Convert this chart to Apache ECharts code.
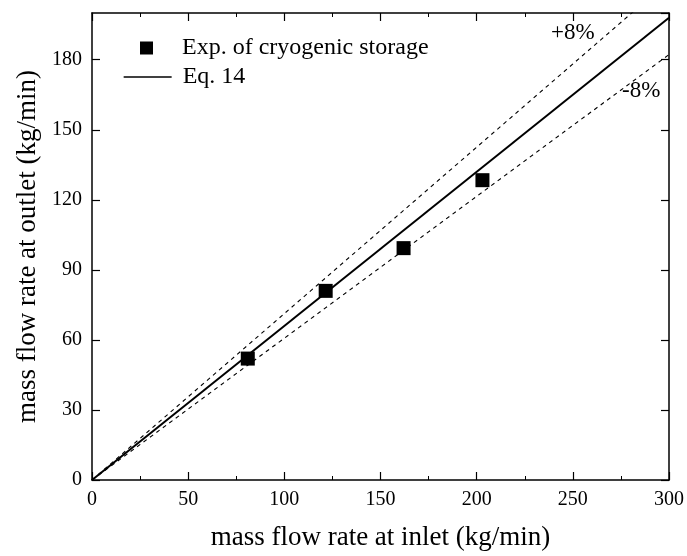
<!DOCTYPE html>
<html><head><meta charset="utf-8">
<script src="https://cdn.jsdelivr.net/npm/echarts@6/dist/echarts.min.js"></script>
<style>html,body{margin:0;padding:0;background:#fff}#c{width:687px;height:556px}</style>
</head><body><div id="c"></div>
<script>
// Experimental points
const expX = [81, 121.5, 162, 203];
const expY = [52, 81, 99.3, 128.4];
// Eq. 14 line endpoints
const eqX = [0, 300];
const eqY = [0, 198];
// +8% / -8% band endpoints
const plusX = [0, 300];
const plusY = [0, 213.8];
const minusX = [0, 300];
const minusY = [0, 182.2];
const xTicks = [0, 50, 100, 150, 200, 250, 300];
const yTicks = [0, 30, 60, 90, 120, 150, 180];

const zip = (a, b) => a.map((v, i) => [v, b[i]]);
const FONT = '"Liberation Serif", "Times New Roman", serif';

const axisCommon = {
  axisLine: { show: true, onZero: false, lineStyle: { color: '#000', width: 1.5 } },
  axisTick: { show: true, inside: true, length: 8, lineStyle: { color: '#000', width: 1.2 } },
  minorTick: { show: true, splitNumber: 2, length: 4, lineStyle: { color: '#000', width: 1 } },
  splitLine: { show: false },
};

const chart = echarts.init(document.getElementById('c'), null, { renderer: 'canvas' });
chart.setOption({
  animation: false,
  textStyle: { fontFamily: FONT },
  grid: { left: 92, right: 18, top: 13, bottom: 74, containLabel: false },
  legend: [
    {
      orient: 'vertical', left: 135, top: 31, itemWidth: 13, itemHeight: 13,
      textStyle: { fontFamily: FONT, fontSize: 24, color: '#000', padding: [0, 0, 0, 24] },
      data: [{ name: 'Exp. of cryogenic storage', icon: 'rect' }]
    },
    {
      orient: 'vertical', left: 118, top: 60, itemWidth: 48, itemHeight: 13,
      textStyle: { fontFamily: FONT, fontSize: 24, color: '#000', padding: [0, 0, 0, 6] },
      lineStyle: { width: 1.3, color: '#000' },
      data: [{ name: 'Eq. 14', itemStyle: { color: 'rgba(0,0,0,0)', borderWidth: 0 } }]
    }
  ],
  xAxis: [
    Object.assign({}, axisCommon, {
      type: 'value', min: xTicks[0], max: xTicks[xTicks.length - 1], interval: 50,
      name: 'mass flow rate at inlet (kg/min)', nameLocation: 'middle', nameGap: 44,
      nameTextStyle: { fontFamily: FONT, fontSize: 27, color: '#000' },
      axisLabel: { color: '#000', fontFamily: FONT, fontSize: 20, margin: 10 }
    }),
    Object.assign({}, axisCommon, {
      type: 'value', position: 'top', min: xTicks[0], max: xTicks[xTicks.length - 1], interval: 50,
      axisLabel: { show: false }
    })
  ],
  yAxis: [
    Object.assign({}, axisCommon, {
      type: 'value', min: 0, max: 200, interval: 30,
      minorTick: { show: false },
      name: 'mass flow rate at outlet (kg/min)', nameLocation: 'middle', nameGap: 48,
      nameTextStyle: { fontFamily: FONT, fontSize: 27, color: '#000' },
      axisLabel: { color: '#000', fontFamily: FONT, fontSize: 20, margin: 10, showMaxLabel: false,
        formatter: v => yTicks.includes(v) ? String(v) : '' }
    }),
    Object.assign({}, axisCommon, {
      type: 'value', position: 'right', min: 0, max: 200, interval: 30,
      minorTick: { show: false },
      axisLabel: { show: false }
    })
  ],
  series: [
    {
      name: '+8%', type: 'line', data: zip(plusX, plusY), symbol: 'none', clip: true,
      lineStyle: { color: '#000', width: 1.1, type: [4, 4] }, silent: true
    },
    {
      name: '-8%', type: 'line', data: zip(minusX, minusY), symbol: 'none', clip: true,
      lineStyle: { color: '#000', width: 1.1, type: [4, 4] }, silent: true
    },
    {
      name: 'Eq. 14', type: 'line', data: zip(eqX, eqY), symbol: 'none', clip: true,
      lineStyle: { color: '#000', width: 2 }, itemStyle: { color: '#000' }
    },
    {
      name: 'Exp. of cryogenic storage', type: 'scatter', data: zip(expX, expY),
      symbol: 'rect', symbolSize: 14, itemStyle: { color: '#000', opacity: 1 }, z: 5
    }
  ],
  graphic: [
    { type: 'text', left: 551, top: 21, style: { text: '+8%', font: '23px ' + FONT, fill: '#000' } },
    { type: 'text', left: 622, top: 79, style: { text: '-8%', font: '23px ' + FONT, fill: '#000' } }
  ]
});
</script></body></html>
